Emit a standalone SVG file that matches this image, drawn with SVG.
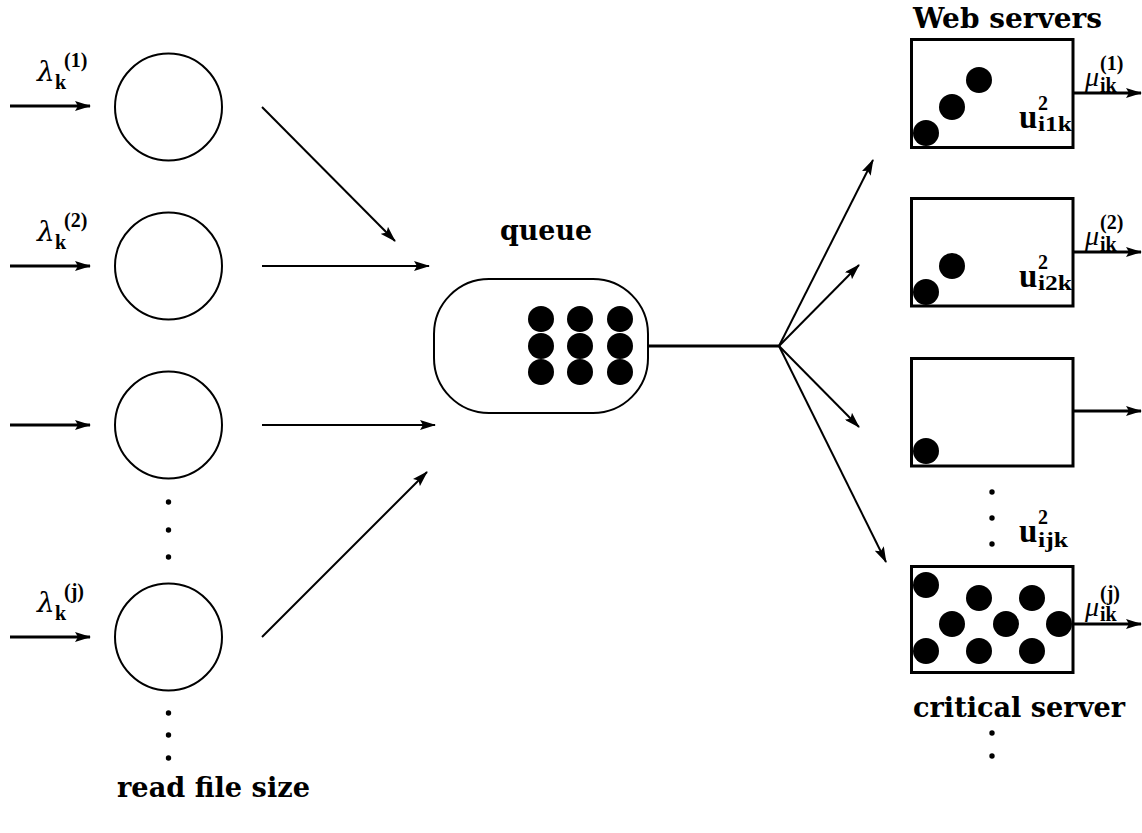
<svg xmlns="http://www.w3.org/2000/svg" width="1142" height="833" viewBox="0 0 1142 833">
<defs>
<marker id="ah" markerUnits="userSpaceOnUse" markerWidth="16" markerHeight="10" refX="15" refY="5" orient="auto">
<path d="M0,0 L16,5 L0,10 L3,5 Z" fill="#000"/>
</marker>
</defs>
<style>
.ln{stroke:#000;stroke-width:2;fill:none}
.lnb{stroke:#000;stroke-width:3;fill:none}
.node{stroke:#000;stroke-width:2;fill:#fff}
.box{stroke:#000;stroke-width:3;fill:#fff}
.dot{fill:#000}
.sd{fill:#000}
.lbl{font-family:"DejaVu Serif","Liberation Serif",serif;font-weight:bold;font-size:27px;fill:#000}
.gr{font-family:"DejaVu Serif","Liberation Serif",serif;font-style:italic;font-size:28px;fill:#000}
.mu{font-family:"Liberation Serif",serif;font-style:italic;font-size:28px;fill:#000}
.sb{font-family:"Liberation Serif",serif;font-weight:bold;font-size:20px;fill:#000}
.u{font-family:"Liberation Serif",serif;font-weight:bold;font-size:33px;fill:#000}
</style>
<rect width="1142" height="833" fill="#fff"/>

<g id="connectors">
<line class="lnb" x1="10" y1="106" x2="90" y2="106" marker-end="url(#ah)"/>
<line class="lnb" x1="10" y1="266" x2="90" y2="266" marker-end="url(#ah)"/>
<line class="lnb" x1="10" y1="425" x2="90" y2="425" marker-end="url(#ah)"/>
<line class="lnb" x1="10" y1="637" x2="90" y2="637" marker-end="url(#ah)"/>
<line class="ln" x1="262" y1="107" x2="395" y2="241" marker-end="url(#ah)"/>
<line class="ln" x1="262" y1="266" x2="429" y2="266" marker-end="url(#ah)"/>
<line class="ln" x1="262" y1="425" x2="435" y2="425" marker-end="url(#ah)"/>
<line class="ln" x1="262" y1="637" x2="427" y2="472" marker-end="url(#ah)"/>
<line class="lnb" x1="648" y1="346" x2="779" y2="346"/>
<line class="ln" x1="779" y1="346" x2="873" y2="160" marker-end="url(#ah)"/>
<line class="ln" x1="779" y1="346" x2="859" y2="265" marker-end="url(#ah)"/>
<line class="ln" x1="779" y1="346" x2="859" y2="427" marker-end="url(#ah)"/>
<line class="ln" x1="779" y1="346" x2="886" y2="562" marker-end="url(#ah)"/>
<line class="lnb" x1="1073" y1="93" x2="1141" y2="93" marker-end="url(#ah)"/>
<line class="lnb" x1="1073" y1="252" x2="1141" y2="252" marker-end="url(#ah)"/>
<line class="lnb" x1="1073" y1="411" x2="1141" y2="411" marker-end="url(#ah)"/>
<line class="lnb" x1="1073" y1="624" x2="1141" y2="624" marker-end="url(#ah)"/>
</g>

<g id="lambda1">
<text class="gr" x="37" y="81">λ</text>
<text class="sb" x="55" y="89">k</text>
<text class="sb" x="64" y="67">(1)</text>
</g>
<g id="lambda2">
<text class="gr" x="37" y="241">λ</text>
<text class="sb" x="55" y="249">k</text>
<text class="sb" x="64" y="227">(2)</text>
</g>
<g id="lambdaj">
<text class="gr" x="37" y="612">λ</text>
<text class="sb" x="55" y="620">k</text>
<text class="sb" x="64" y="598">(j)</text>
</g>

<g id="c1"><circle class="node" cx="168.5" cy="107" r="53.5"/></g>
<g id="c2"><circle class="node" cx="168.5" cy="266" r="53.5"/></g>
<g id="c3"><circle class="node" cx="168.5" cy="425" r="53.5"/></g>
<g id="c4"><circle class="node" cx="168.5" cy="637" r="53.5"/></g>
<g id="dots-left">
<circle class="sd" cx="168.5" cy="502" r="2.7"/>
<circle class="sd" cx="168.5" cy="530" r="2.7"/>
<circle class="sd" cx="168.5" cy="557" r="2.7"/>
<circle class="sd" cx="168.5" cy="713" r="2.7"/>
<circle class="sd" cx="168.5" cy="735" r="2.7"/>
<circle class="sd" cx="168.5" cy="758" r="2.7"/>
</g>
<g id="label-read"><text class="lbl" x="117" y="797" textLength="193" lengthAdjust="spacingAndGlyphs">read file size</text></g>

<g id="queue">
<rect class="node" x="434" y="279" width="214" height="134" rx="55" ry="55"/>
<circle class="dot" cx="541" cy="319" r="13"/>
<circle class="dot" cx="580" cy="319" r="13"/>
<circle class="dot" cx="620" cy="319" r="13"/>
<circle class="dot" cx="541" cy="346" r="13"/>
<circle class="dot" cx="580" cy="346" r="13"/>
<circle class="dot" cx="620" cy="346" r="13"/>
<circle class="dot" cx="541" cy="372" r="13"/>
<circle class="dot" cx="580" cy="372" r="13"/>
<circle class="dot" cx="620" cy="372" r="13"/>
<text class="lbl" x="500" y="240" textLength="92" lengthAdjust="spacingAndGlyphs">queue</text>
</g>

<g id="label-web"><text class="lbl" x="913" y="28" textLength="189" lengthAdjust="spacingAndGlyphs">Web servers</text></g>

<g id="server1">
<rect class="box" x="911.5" y="39.5" width="161.5" height="108"/>
<circle class="dot" cx="926" cy="133" r="13"/>
<circle class="dot" cx="952" cy="107" r="13"/>
<circle class="dot" cx="979" cy="80" r="13"/>
<text class="u" x="1019" y="128">u</text>
<text class="sb" x="1038" y="110">2</text>
<text class="sb" x="1038" y="131" textLength="34" lengthAdjust="spacingAndGlyphs">i1k</text>
<text class="mu" x="1085" y="86">μ</text>
<text class="sb" x="1100" y="70">(1)</text>
<text class="sb" x="1100" y="92">ik</text>
</g>

<g id="server2">
<rect class="box" x="911.5" y="198.5" width="161.5" height="107.5"/>
<circle class="dot" cx="926" cy="292" r="13"/>
<circle class="dot" cx="952" cy="266" r="13"/>
<text class="u" x="1019" y="287">u</text>
<text class="sb" x="1038" y="269">2</text>
<text class="sb" x="1038" y="290" textLength="34" lengthAdjust="spacingAndGlyphs">i2k</text>
<text class="mu" x="1085" y="245">μ</text>
<text class="sb" x="1100" y="229">(2)</text>
<text class="sb" x="1100" y="251">ik</text>
</g>

<g id="server3">
<rect class="box" x="911.5" y="358.5" width="161.5" height="107.5"/>
<circle class="dot" cx="926" cy="451" r="13"/>
</g>

<g id="dots-right">
<circle class="sd" cx="992" cy="492" r="2.7"/>
<circle class="sd" cx="992" cy="518" r="2.7"/>
<circle class="sd" cx="992" cy="544" r="2.7"/>
<circle class="sd" cx="992" cy="733" r="2.7"/>
<circle class="sd" cx="992" cy="756" r="2.7"/>
</g>
<g id="label-uijk">
<text class="u" x="1019" y="542">u</text>
<text class="sb" x="1038" y="524">2</text>
<text class="sb" x="1038" y="547" textLength="30" lengthAdjust="spacingAndGlyphs">ijk</text>
</g>

<g id="server4">
<rect class="box" x="911.5" y="566.5" width="161.5" height="106"/>
<circle class="dot" cx="926" cy="585" r="13"/>
<circle class="dot" cx="979" cy="598" r="13"/>
<circle class="dot" cx="1032" cy="598" r="13"/>
<circle class="dot" cx="952" cy="624" r="13"/>
<circle class="dot" cx="1006" cy="624" r="13"/>
<circle class="dot" cx="1059" cy="624" r="13"/>
<circle class="dot" cx="926" cy="651" r="13"/>
<circle class="dot" cx="979" cy="651" r="13"/>
<circle class="dot" cx="1032" cy="651" r="13"/>
<text class="mu" x="1085" y="616">μ</text>
<text class="sb" x="1100" y="600">(j)</text>
<text class="sb" x="1100" y="621">ik</text>
</g>
<g id="label-critical"><text class="lbl" x="913" y="717" textLength="212" lengthAdjust="spacingAndGlyphs">critical server</text></g>
</svg>
